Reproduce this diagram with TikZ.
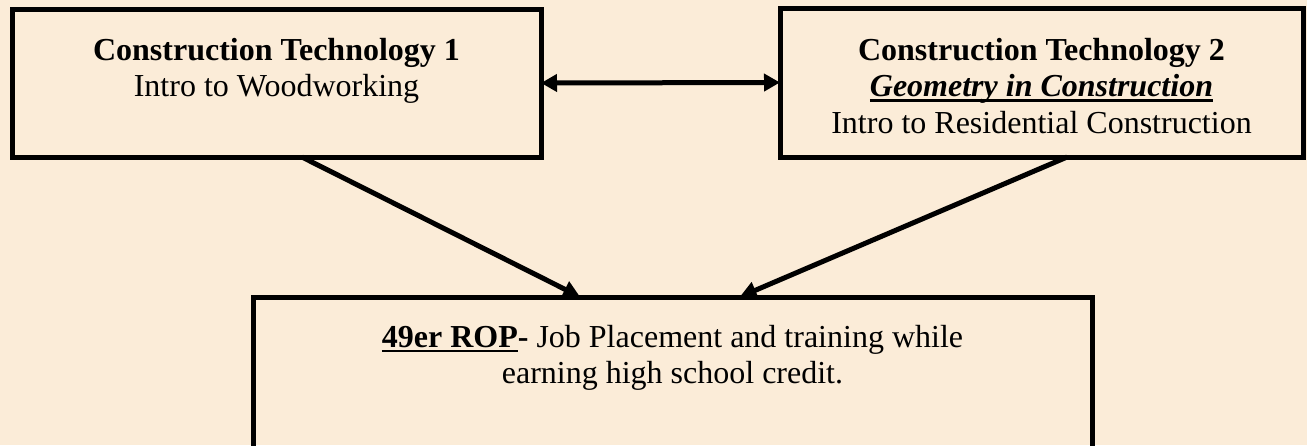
\documentclass[tikz,border=0pt]{standalone}
\usepackage{fontspec}
\setmainfont{Liberation Serif}
\usetikzlibrary{arrows.meta,calc}
\definecolor{paper}{RGB}{251,236,216}
\newcommand{\boxuline}[1]{{\setbox0\hbox{#1}\rlap{\rule[-5pt]{\wd0}{2.5pt}}\box0}}
\begin{document}
\begin{tikzpicture}[x=1pt, y=-1pt,
  box/.style={draw, line width=5pt, outer sep=0pt, inner sep=0pt},
  txt/.style={anchor=north, inner sep=0pt, align=center, font=\fontsize{32}{36.5}\selectfont},
  arr/.style={line width=5pt, -{Triangle[length=17pt, width=17pt]}}]
\fill[paper] (0,0) rectangle (1307,445);
\useasboundingbox (0,0) rectangle (1307,445);
% boxes
\node[box, minimum width=529pt, minimum height=148pt] (ct1) at (276.5,83) {};
\node[box, minimum width=523pt, minimum height=149pt] (ct2) at (1041.5,82.5) {};
\node[box, minimum width=839pt, minimum height=158pt] (rop) at (672.5,376) {};
% texts
\node[txt] (ct1text) at (276.5,38) {\textbf{Construction Technology 1}\\ Intro to Woodworking};
\node[txt] (ct2text) at (1041.5,38) {\textbf{Construction Technology 2}\\ \boxuline{\textbf{\textit{Geometry in Construction}}}\\ Intro to Residential Construction};
\node[txt] (roptext) at (672.5,325) {\textbf{\boxuline{49er ROP}-} Job Placement and training while\\ earning high school credit.};
% arrows
\draw[line width=5pt, {Triangle[length=16pt, width=17pt]}-{Triangle[length=16pt, width=17pt]}] (ct1.east) -- (ct2.west);
\draw[arr] ($(ct1.south west)!.548!(ct1.south east)$) -- ($(rop.north west)!.39!(rop.north east)$);
\draw[arr] ($(ct2.south west)!.549!(ct2.south east)$) -- ($(rop.north west)!.58!(rop.north east)$);
\end{tikzpicture}
\end{document}
